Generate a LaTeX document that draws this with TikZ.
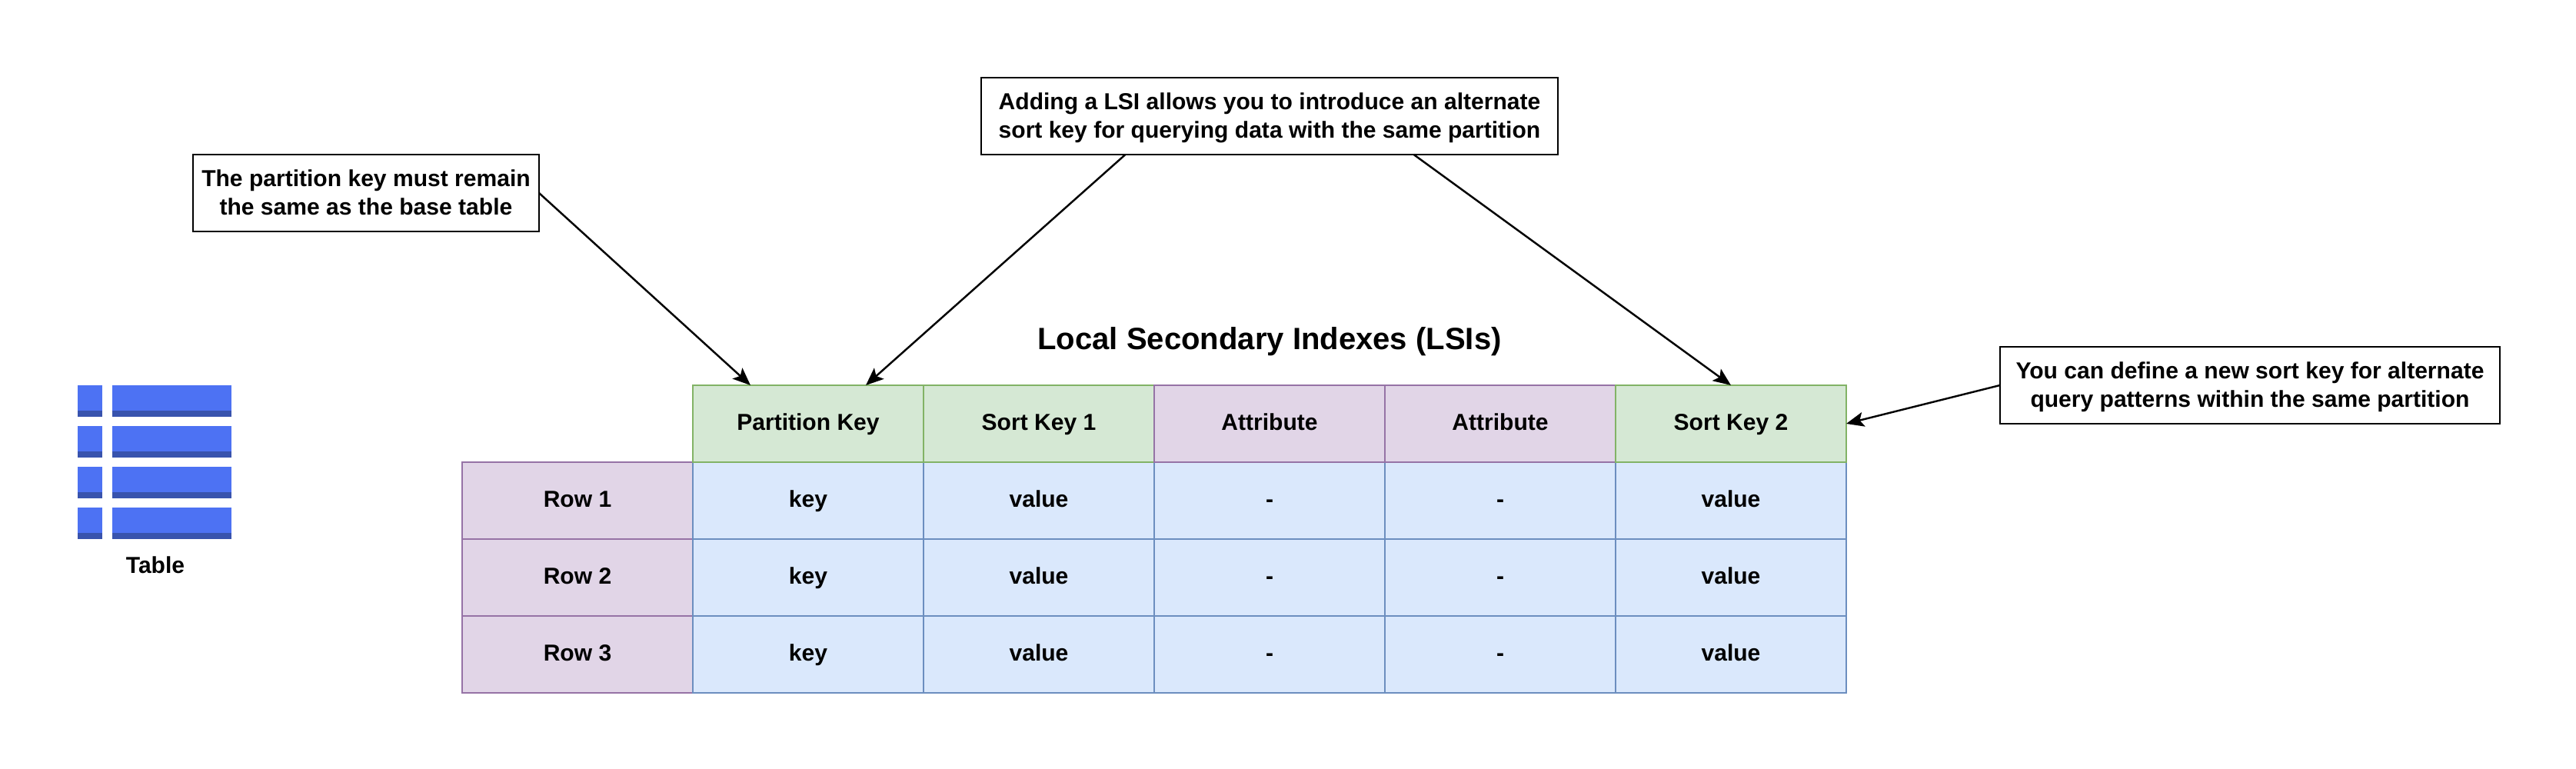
\documentclass[tikz,border=0pt]{standalone}
\usepackage{fontspec}
\setmainfont{Liberation Sans}
\usetikzlibrary{arrows.meta,calc}

\definecolor{hdrfill}{HTML}{D5E8D4}
\definecolor{hdrline}{HTML}{82B366}
\definecolor{attrfill}{HTML}{E1D5E7}
\definecolor{attrline}{HTML}{9673A6}
\definecolor{cellfill}{HTML}{DAE8FC}
\definecolor{cellline}{HTML}{6C8EBF}
\definecolor{iconlight}{HTML}{4D72F3}
\definecolor{icondark}{HTML}{3853AD}

\begin{document}
\begin{tikzpicture}[
      cell/.style={draw, rectangle, minimum width=3cm, minimum height=1cm, inner sep=0pt, outer sep=0pt, line width=0.7pt, text height=0.25cm, text depth=0.07cm},
      keycol/.style={cell, draw=hdrline, fill=hdrfill},
      attr/.style={cell, draw=attrline, fill=attrfill},
      val/.style={cell, draw=cellline, fill=cellfill},
      note/.style={draw, rectangle, align=center, minimum height=1cm, inner sep=0pt, outer sep=0pt, line width=0.7pt, fill=white, text height=0.65cm, text depth=0.076cm},
      wire/.style={line width=0.7pt, -{Stealth[length=0.23cm, width=0.19cm, inset=0.05cm]}},
      every node/.style={font=\fontsize{8.55}{10.6}\selectfont\bfseries}
    ]
      \useasboundingbox (0,0) rectangle (33.5,10);

      % table icon
      \fill[iconlight] (1.01,4.99) rectangle (1.33,4.58);
      \fill[iconlight] (1.46,4.99) rectangle (3.01,4.58);
      \fill[iconlight] (1.01,4.46) rectangle (1.33,4.05);
      \fill[iconlight] (1.46,4.46) rectangle (3.01,4.05);
      \fill[iconlight] (1.01,3.93) rectangle (1.33,3.52);
      \fill[iconlight] (1.46,3.93) rectangle (3.01,3.52);
      \fill[iconlight] (1.01,3.40) rectangle (1.33,2.99);
      \fill[iconlight] (1.46,3.40) rectangle (3.01,2.99);
      \fill[icondark] (1.01,4.66) rectangle (1.33,4.58);
      \fill[icondark] (1.46,4.66) rectangle (3.01,4.58);
      \fill[icondark] (1.01,4.13) rectangle (1.33,4.05);
      \fill[icondark] (1.46,4.13) rectangle (3.01,4.05);
      \fill[icondark] (1.01,3.60) rectangle (1.33,3.52);
      \fill[icondark] (1.46,3.60) rectangle (3.01,3.52);
      \fill[icondark] (1.01,3.07) rectangle (1.33,2.99);
      \fill[icondark] (1.46,3.07) rectangle (3.01,2.99);
      \node (tablelabel) at (2.02,2.65) {Table};

      \node[font=\fontsize{11.4}{13}\selectfont\bfseries] (title) at (16.51,5.56) {Local Secondary Indexes (LSIs)};

      % row labels
      \node[attr] (row1) at (7.51,3.49) {Row 1};
      \node[attr] (row2) at (7.51,2.49) {Row 2};
      \node[attr] (row3) at (7.51,1.49) {Row 3};

      % value cells
      \node[val] (k1) at (10.51,3.49) {key};
      \node[val] (a1) at (13.51,3.49) {value};
      \node[val] (b1) at (16.51,3.49) {-};
      \node[val] (c1) at (19.51,3.49) {-};
      \node[val] (d1) at (22.51,3.49) {value};
      \node[val] (k2) at (10.51,2.49) {key};
      \node[val] (a2) at (13.51,2.49) {value};
      \node[val] (b2) at (16.51,2.49) {-};
      \node[val] (c2) at (19.51,2.49) {-};
      \node[val] (d2) at (22.51,2.49) {value};
      \node[val] (k3) at (10.51,1.49) {key};
      \node[val] (a3) at (13.51,1.49) {value};
      \node[val] (b3) at (16.51,1.49) {-};
      \node[val] (c3) at (19.51,1.49) {-};
      \node[val] (d3) at (22.51,1.49) {value};

      % header
      \node[keycol] (partkey) at (10.51,4.49) {Partition Key};
      \node[keycol] (sortone) at (13.51,4.49) {Sort Key 1};
      \node[attr] (attrone) at (16.51,4.49) {Attribute};
      \node[attr] (attrtwo) at (19.51,4.49) {Attribute};
      \node[keycol] (sorttwo) at (22.51,4.49) {Sort Key 2};

      % notes
      \node[note, minimum width=4.5cm] (notepart) at (4.76,7.49) {The partition key must remain\\the same as the base table};
      \node[note, minimum width=7.5cm] (notelsi) at (16.51,8.49) {Adding a LSI allows you to introduce an alternate\\sort key for querying data with the same partition};
      \node[note, minimum width=6.5cm] (notesort) at (29.26,4.99) {You can define a new sort key for alternate\\query patterns within the same partition};

      \coordinate (partleft) at ($(partkey.north west)!0.25!(partkey.north east)$);
      \coordinate (partright) at ($(partkey.north west)!0.75!(partkey.north east)$);
      \coordinate (lsileft) at ($(notelsi.south west)!0.25!(notelsi.south east)$);
      \coordinate (lsiright) at ($(notelsi.south west)!0.75!(notelsi.south east)$);

      \draw[wire] (notepart.east) -- (partleft);
      \draw[wire] (lsileft) -- (partright);
      \draw[wire] (lsiright) -- (sorttwo.north);
      \draw[wire] (notesort.west) -- (sorttwo.east);
    \end{tikzpicture}
\end{document}
